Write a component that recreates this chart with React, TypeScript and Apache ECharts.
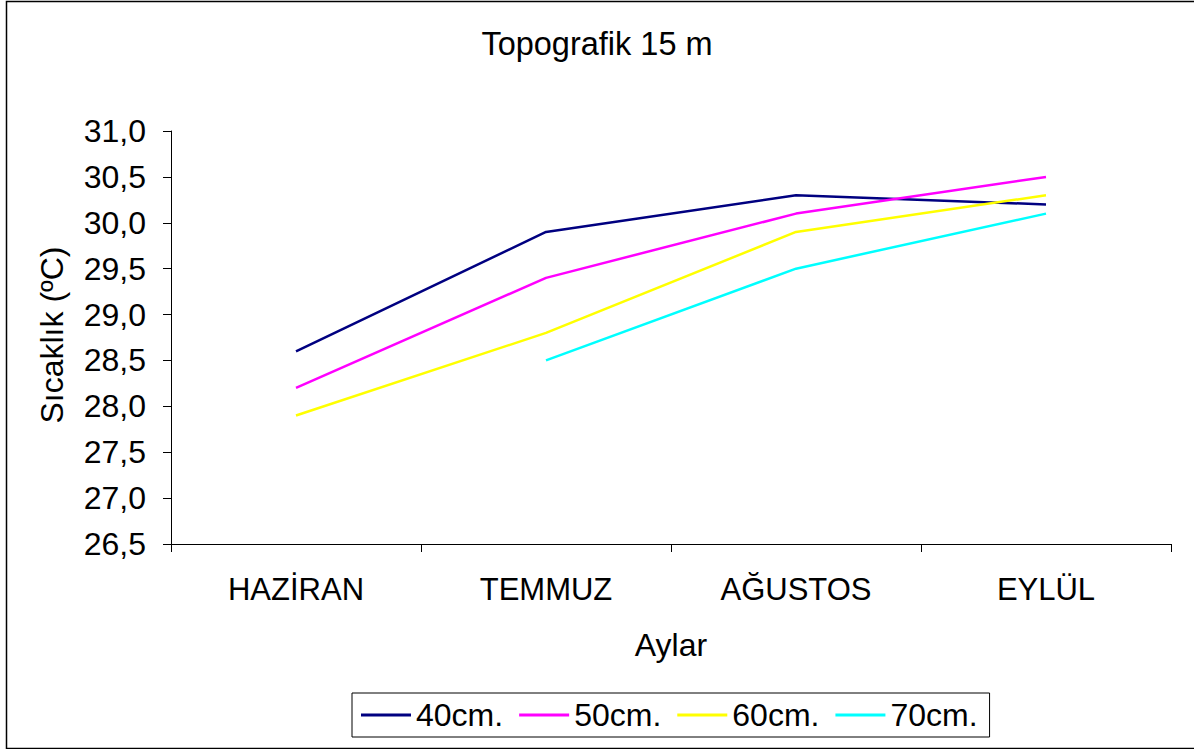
import React, { useEffect, useRef } from "react";
import * as echarts from "echarts";

const months = ["HAZİRAN", "TEMMUZ", "AĞUSTOS", "EYLÜL"];
const s40 = [28.6, 29.9, 30.3, 30.2];
const s50 = [28.2, 29.4, 30.1, 30.5];
const s60 = [27.9, 28.8, 29.9, 30.3];
const s70 = [null, 28.5, 29.5, 30.1];
const seriesNames = ["40cm.", "50cm.", "60cm.", "70cm."];
const seriesColors = ["#000080", "#FF00FF", "#FFFF00", "#00FFFF"];

const FONT = "Liberation Sans, Arial, sans-serif";

export default function App() {
  const ref = useRef<HTMLDivElement>(null);
  useEffect(() => {
    if (!ref.current) return;
    const chart = echarts.init(ref.current, undefined, { renderer: "svg" });
    const data = [s40, s50, s60, s70];
    chart.setOption({
      animation: false,
      backgroundColor: "#fff",
      textStyle: { fontFamily: FONT, color: "#000" },
      title: {
        text: "Topografik 15 m",
        left: "center",
        top: 22,
        textStyle: { fontFamily: FONT, fontSize: 32.5, fontWeight: "normal", color: "#000" },
      },
      grid: { left: 171, right: 23, top: 131, bottom: 205 },
      xAxis: {
        type: "category",
        data: months,
        boundaryGap: true,
        axisLine: { lineStyle: { color: "#000", width: 1 } },
        axisTick: { show: true, length: 8, lineStyle: { color: "#000" } },
        axisLabel: { fontFamily: FONT, fontSize: 31, color: "#000", margin: 30 },
        splitLine: { show: false },
      },
      yAxis: {
        type: "value",
        min: 26.5,
        max: 31,
        interval: 0.5,
        axisLine: { show: true, lineStyle: { color: "#000", width: 1 } },
        axisTick: { show: true, length: 8, lineStyle: { color: "#000" } },
        axisLabel: {
          fontFamily: FONT,
          fontSize: 32,
          color: "#000",
          margin: 25,
          formatter: (v: number) => v.toFixed(1).replace(".", ","),
        },
        splitLine: { show: false },
      },
      legend: {
        left: 352,
        top: 693,
        orient: "horizontal",
        data: seriesNames,
        icon: "rect",
        itemWidth: 50,
        itemHeight: 3,
        itemGap: 16,
        padding: [6, 12, 6, 9],
        borderColor: "#000",
        borderWidth: 1,
        textStyle: { fontFamily: FONT, fontSize: 32, color: "#000", lineHeight: 32 },
      },
      series: seriesNames.map((name, i) => ({
        name,
        type: "line",
        data: data[i],
        symbol: "none",
        showSymbol: false,
        connectNulls: false,
        color: seriesColors[i],
        itemStyle: { color: seriesColors[i] },
        lineStyle: { color: seriesColors[i], width: 2.5 },
      })),
      graphic: [
        {
          type: "rect",
          left: 4,
          top: -1,
          shape: { x: 0, y: 0, width: 1189, height: 747 },
          style: { fill: "none", stroke: "#000", lineWidth: 1.5 },
          silent: true,
        },
        {
          type: "text",
          x: 52,
          y: 335,
          rotation: Math.PI / 2,
          style: {
            text: "Sıcaklık (ºC)",
            fontFamily: FONT,
            fontSize: 32,
            fill: "#000",
            align: "center",
            verticalAlign: "middle",
          },
        },
        {
          type: "text",
          x: 671,
          y: 645,
          style: {
            text: "Aylar",
            fontFamily: FONT,
            fontSize: 32,
            fill: "#000",
            align: "center",
            verticalAlign: "middle",
          },
        },
      ],
    });
    return () => chart.dispose();
  }, []);
  return (
    <div
      ref={ref}
      style={{ position: "absolute", left: 0, top: 0, width: 1194, height: 749 }}
    />
  );
}
